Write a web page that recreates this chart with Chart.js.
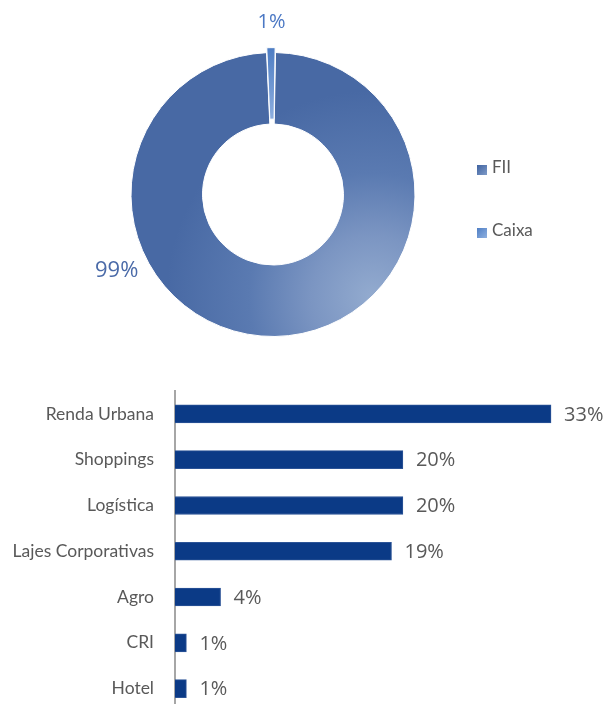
<!DOCTYPE html>
<html>
<head>
<meta charset="utf-8">
<script src="https://cdn.jsdelivr.net/npm/chart.js@4"></script>
<style>
  html, body { margin: 0; padding: 0; background: #ffffff; }
  body { width: 608px; height: 704px; overflow: hidden; position: relative; }
  #pieWrap { position: absolute; left: 0; top: 0; width: 608px; height: 370px; }
  #barWrap { position: absolute; left: 0; top: 380px; width: 608px; height: 342px; }
</style>
</head>
<body>
<div id="pieWrap"><canvas id="pie"></canvas></div>
<div id="barWrap"><canvas id="bars"></canvas></div>
<script>
// Allocation by asset type
const allocLabels = ['FII', 'Caixa'];
const allocValues = [99, 1];

// Allocation by segment
const segLabels = ['Renda Urbana', 'Shoppings', 'Logística', 'Lajes Corporativas', 'Agro', 'CRI', 'Hotel'];
const segValues = [33, 20, 20, 19, 4, 1, 1];

const grey = '#595959';
const pctFont = '"Open Sans", "Noto Sans", sans-serif';
const labelFont = 'Lato, "Noto Sans", sans-serif';

// Soft shaded fill: brighter toward the lower right of the ring
function sliceFill(ctx, index, cx, cy, r) {
  if (index === 0) {
    const hx = cx + r * 0.7, hy = cy + r * 0.72;
    const g = ctx.createRadialGradient(hx, hy, 0, hx, hy, r * 1.45);
    g.addColorStop(0, '#93abcf');
    g.addColorStop(0.3, '#7b95c2');
    g.addColorStop(0.6, '#5a7ab1');
    g.addColorStop(1, '#4869a4');
    return g;
  }
  const g = ctx.createLinearGradient(cx - 4, cy - r, cx + 4, cy - r * 0.5);
  g.addColorStop(0, '#4f7ec4');
  g.addColorStop(1, '#8fb0e0');
  return g;
}

// Percent labels and legend for the doughnut
const pieDecor = {
  id: 'pieDecor',
  afterDraw(chart) {
    const ctx = chart.ctx;
    const arcs = chart.getDatasetMeta(0).data;
    const values = chart.data.datasets[0].data;
    const total = values.reduce((a, b) => a + b, 0);
    ctx.save();
    ctx.textAlign = 'center';
    ctx.textBaseline = 'middle';
    const labelAngles = [2.687, -1.579];
    const labelDist = [32, 30];
    const labelSizes = [22, 20];
    const labelColors = ['#4a6aa8', '#4b78c4'];
    arcs.forEach((arc, i) => {
      const p = arc.getProps(['x', 'y', 'outerRadius']);
      const a = labelAngles[i];
      const dist = p.outerRadius + labelDist[i];
      const x = p.x + Math.cos(a) * dist;
      const y = p.y + Math.sin(a) * dist;
      ctx.font = labelSizes[i] + 'px ' + pctFont;
      ctx.fillStyle = labelColors[i];
      ctx.fillText(Math.round(values[i] / total * 100) + '%', x, y);
    });

    // Legend
    const lx = 477, ly = [170, 233];
    ctx.font = '17px ' + labelFont;
    ctx.textAlign = 'left';
    chart.data.labels.forEach((lab, i) => {
      const g = ctx.createLinearGradient(lx, ly[i] - 5, lx + 10, ly[i] + 5);
      g.addColorStop(0, i === 0 ? '#3f62a0' : '#4f7ec4');
      g.addColorStop(1, i === 0 ? '#7f9bc8' : '#8fb0e0');
      ctx.fillStyle = g;
      ctx.fillRect(lx, ly[i] - 5, 10, 10);
      ctx.fillStyle = grey;
      ctx.fillText(lab, lx + 15, ly[i] - 2);
    });
    ctx.restore();
  }
};

new Chart(document.getElementById('pie'), {
  type: 'doughnut',
  data: {
    labels: allocLabels,
    datasets: [{
      data: allocValues,
      radius: 142,
      cutout: '49.65%',
      rotation: 1,
      offset: [0, 10],
      borderWidth: 1,
      borderColor: '#ffffff',
      backgroundColor(context) {
        const chart = context.chart;
        const area = chart.chartArea;
        if (!area) return '#4f73ab';
        const cx = (area.left + area.right) / 2;
        const cy = (area.top + area.bottom) / 2;
        return sliceFill(chart.ctx, context.dataIndex, cx, cy, 142);
      }
    }]
  },
  options: {
    responsive: true,
    maintainAspectRatio: false,
    animation: false,
    layout: { padding: { left: 0, right: 62, top: 19, bottom: 0 } },
    plugins: { legend: { display: false }, tooltip: { enabled: false } }
  },
  plugins: [pieDecor]
});

// Value labels at the end of each bar
const barValues = {
  id: 'barValues',
  afterDatasetsDraw(chart) {
    const ctx = chart.ctx;
    const meta = chart.getDatasetMeta(0);
    const values = chart.data.datasets[0].data;
    ctx.save();
    ctx.font = '20px ' + pctFont;
    ctx.fillStyle = grey;
    ctx.textAlign = 'left';
    ctx.textBaseline = 'middle';
    meta.data.forEach((bar, i) => {
      ctx.fillText(values[i] + '%', bar.x + 13, bar.y + 1);
    });
    ctx.restore();
  }
};

new Chart(document.getElementById('bars'), {
  type: 'bar',
  data: {
    labels: segLabels,
    datasets: [{
      data: segValues,
      backgroundColor: '#0b3a86',
      borderColor: '#2c5497',
      borderWidth: 1,
      borderSkipped: 'left',
      barThickness: 18
    }]
  },
  options: {
    indexAxis: 'y',
    responsive: true,
    maintainAspectRatio: false,
    animation: false,
    layout: { padding: { left: 0, right: 0, top: 11, bottom: 0 } },
    scales: {
      x: { display: false, min: 0, max: 38 },
      y: {
        afterFit(scale) { scale.width = 175; },
        grid: { display: false, drawTicks: true, tickLength: 21 },
        border: { display: true, color: '#a6a6a6', width: 2 },
        ticks: {
          padding: 0,
          color: grey,
          font: { family: 'Lato, "Noto Sans", sans-serif', size: 17.5 }
        }
      }
    },
    plugins: { legend: { display: false }, tooltip: { enabled: false } }
  },
  plugins: [barValues]
});
</script>
</body>
</html>
